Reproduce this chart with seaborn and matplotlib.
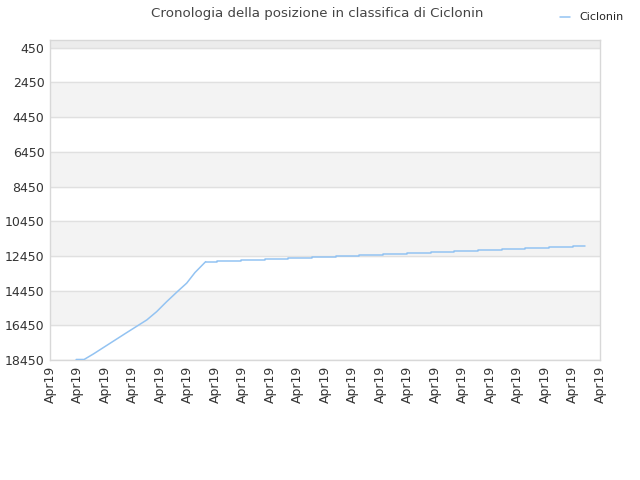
import numpy as np
import pandas as pd
import matplotlib
matplotlib.use("Agg")
import matplotlib.pyplot as plt
import seaborn as sns

# ranking history (x in tick units, lower rank value = better)
rise_pos = [0.95, 1.24, 1.58, 2.18, 2.79, 3.52, 3.88, 4.24, 4.67, 4.97, 5.27, 5.66]
rise_rank = [18420, 18420, 18100, 17490, 16870, 16140, 15660, 15090, 14450, 14020, 13410, 12780]

step_pos = [5.66, 6.06, 6.95, 7.82, 8.67, 9.53, 10.40, 11.25, 12.11, 12.97,
            13.84, 14.69, 15.56, 16.44, 17.27, 18.15, 19.03, 19.45]
step_rank = [12780, 12720, 12665, 12605, 12550, 12490, 12430, 12375, 12315, 12260,
             12200, 12145, 12085, 12030, 11970, 11910, 11855, 11855]

tick_labels = ["Apr19"] * 21
y_ticks = [450, 2450, 4450, 6450, 8450, 10450, 12450, 14450, 16450, 18450]

player = "Ciclonin"
line_color = "#93c3f2"

sns.set_theme(style="white")
plt.rcParams['font.family'] = ['DejaVu Sans']

fig = plt.figure(figsize=(6.4, 4.8), dpi=100)
ax = fig.add_axes([50 / 640, 1 - 360 / 480, 550 / 640, 320 / 480])

# alternating bands, the thin strip above the first tick is a touch darker
edges = [0] + y_ticks
for i in range(len(edges) - 1):
    if i % 2 == 0:
        band = "#ececec" if i == 0 else "#f3f3f3"
        ax.axhspan(edges[i], edges[i + 1], color=band, zorder=0)

rise_df = pd.DataFrame({"pos": rise_pos, "rank": rise_rank})
step_df = pd.DataFrame({"pos": step_pos, "rank": step_rank})
sns.lineplot(data=rise_df, x="pos", y="rank", ax=ax, color=line_color, lw=1.1,
             label=player, zorder=3)
sns.lineplot(data=step_df, x="pos", y="rank", ax=ax, color=line_color, lw=1.1,
             drawstyle="steps-post", zorder=3)

ax.set_xlim(0, 20)
ax.set_ylim(18450, 0)
ax.set_yticks(y_ticks)
ax.set_yticklabels([str(v) for v in y_ticks], fontsize=9, color="#333333")
ax.set_xticks(range(21))
ax.set_xticklabels(tick_labels, rotation=90, fontsize=9, color="#333333")
ax.set_xlabel("")
ax.set_ylabel("")
ax.grid(axis="y", color="#e0e0e0", lw=1)
ax.set_axisbelow(True)
for s in ax.spines.values():
    s.set_color("#d8d8d8")
    s.set_linewidth(1)
ax.tick_params(axis="both", length=0, pad=4)

ax.get_legend().remove()
handles, labels = ax.get_legend_handles_labels()
fig.legend(handles[:1], labels[:1], loc="upper right", bbox_to_anchor=(0.99, 0.995),
           frameon=False, fontsize=8, handlelength=0.9, handletextpad=0.8)

fig.suptitle("Cronologia della posizione in classifica di Ciclonin", x=317 / 640, y=0.985,
             fontsize=9.6, color="#444444")

fig.savefig("out.png", dpi=100)
